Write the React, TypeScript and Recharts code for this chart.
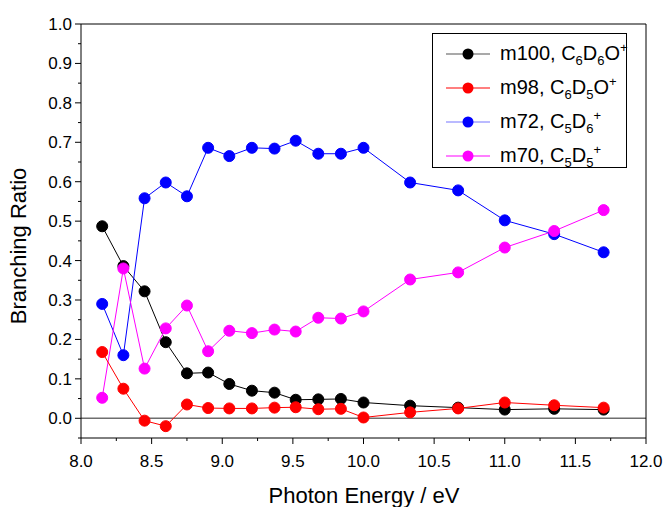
import { LineChart, Line, XAxis, YAxis, ReferenceLine, Legend, Label } from 'recharts'

const energy = [8.15, 8.3, 8.45, 8.6, 8.75, 8.9, 9.05, 9.21, 9.37, 9.52, 9.68, 9.84, 10.0, 10.33, 10.67, 11.0, 11.35, 11.7]
const m100 = [0.487, 0.386, 0.322, 0.193, 0.114, 0.116, 0.087, 0.07, 0.065, 0.047, 0.048, 0.049, 0.04, 0.032, 0.027, 0.022, 0.024, 0.022]
const m98 = [0.168, 0.075, -0.006, -0.02, 0.035, 0.026, 0.025, 0.025, 0.027, 0.028, 0.023, 0.024, 0.002, 0.015, 0.025, 0.04, 0.033, 0.027]
const m72 = [0.29, 0.16, 0.558, 0.598, 0.563, 0.686, 0.665, 0.686, 0.684, 0.704, 0.671, 0.671, 0.686, 0.598, 0.578, 0.502, 0.467, 0.421]
const m70 = [0.052, 0.38, 0.126, 0.228, 0.286, 0.17, 0.222, 0.216, 0.225, 0.22, 0.255, 0.253, 0.271, 0.352, 0.37, 0.433, 0.475, 0.528]

const xTicks = [8.0, 8.25, 8.5, 8.75, 9.0, 9.25, 9.5, 9.75, 10.0, 10.25, 10.5, 10.75, 11.0, 11.25, 11.5, 11.75, 12.0]
const yTicks = [-0.05, 0.0, 0.05, 0.1, 0.15, 0.2, 0.25, 0.3, 0.35, 0.4, 0.45, 0.5, 0.55, 0.6, 0.65, 0.7, 0.75, 0.8, 0.85, 0.9, 0.95, 1.0]

const series = [
  { key: 'm100', color: '#000000', legendColor: '#555555', base: 'm100, C', sub1: '6', mid: 'D', sub2: '6', tail: 'O', sup: '+' },
  { key: 'm98', color: '#ff0000', legendColor: '#ff0000', base: 'm98, C', sub1: '6', mid: 'D', sub2: '5', tail: 'O', sup: '+' },
  { key: 'm72', color: '#0000ff', legendColor: '#7777ff', base: 'm72, C', sub1: '5', mid: 'D', sub2: '6', tail: '', sup: '+' },
  { key: 'm70', color: '#ff00ff', legendColor: '#ff00ff', base: 'm70, C', sub1: '5', mid: 'D', sub2: '5', tail: '', sup: '+' },
]

const data = energy.map((e, i) => ({ e, m100: m100[i], m98: m98[i], m72: m72[i], m70: m70[i] }))

const FONT = '"Liberation Sans", Arial, sans-serif'

const isMajorX = (v: number) => Math.round(v * 100) % 50 === 0
const isMajorY = (v: number) => Math.round(Math.abs(v) * 100) % 10 === 0

const BottomTick = (props: any) => {
  const { x, y, payload } = props
  const major = isMajorX(payload.value)
  return (
    <g>
      <line x1={x} y1={y} x2={x} y2={y + (major ? 6 : 3)} stroke="#000" />
      {major && (
        <text x={x} y={y + 29} textAnchor="middle" fontSize={17} fontFamily={FONT} fill="#000">
          {payload.value.toFixed(1)}
        </text>
      )}
    </g>
  )
}

const LeftTick = (props: any) => {
  const { x, y, payload } = props
  const major = isMajorY(payload.value)
  return (
    <g>
      <line x1={x} y1={y} x2={x - (major ? 6 : 3)} y2={y} stroke="#000" />
      {major && (
        <text x={x - 9} y={y + 6} textAnchor="end" fontSize={17} fontFamily={FONT} fill="#000">
          {payload.value.toFixed(1)}
        </text>
      )}
    </g>
  )
}

const RightTick = (props: any) => {
  const { x, y, payload } = props
  const major = isMajorY(payload.value)
  return <line x1={x} y1={y} x2={x + (major ? 5 : 3)} y2={y} stroke="#000" />
}

const LegendBox = () => (
  <div
    style={{
      width: 195,
      height: 135,
      boxSizing: 'border-box',
      border: '1px solid #000',
      background: '#fff',
      fontFamily: FONT,
      fontSize: 20,
      paddingTop: 3,
    }}
  >
    {series.map((s) => (
      <div key={s.key} style={{ display: 'flex', alignItems: 'center', height: 34 }}>
        <svg width={67} height={14} style={{ flex: 'none' }}>
          <line x1={13} y1={7} x2={57} y2={7} stroke={s.legendColor} strokeWidth={1.2} />
          <circle cx={35} cy={7} r={5.5} fill={s.color} />
        </svg>
        <span style={{ whiteSpace: 'nowrap', lineHeight: '20px' }}>
          {s.base}
          <sub style={{ fontSize: 13 }}>{s.sub1}</sub>
          {s.mid}
          <sub style={{ fontSize: 13 }}>{s.sub2}</sub>
          {s.tail}
          <sup style={{ fontSize: 13 }}>{s.sup}</sup>
        </span>
      </div>
    ))}
  </div>
)

export default function App() {
  return (
    <div style={{ position: 'absolute', left: 0, top: 0, width: 667, height: 507, background: '#fff' }}>
      <LineChart width={667} height={507} data={data} margin={{ top: 0, right: 0, bottom: 0, left: 0 }}>
        <XAxis
          dataKey="e"
          type="number"
          domain={[8, 12]}
          ticks={xTicks}
          interval={0}
          height={69}
          tickSize={0}
          tickMargin={0}
          tickLine={false}
          tick={<BottomTick />}
          axisLine={{ stroke: '#000' }}
          allowDataOverflow
        >
          <Label
            content={() => (
              <text x={364} y={503} textAnchor="middle" fontSize={22} fontFamily={FONT} fill="#000">
                Photon Energy / eV
              </text>
            )}
          />
        </XAxis>
        <XAxis
          xAxisId="top"
          orientation="top"
          dataKey="e"
          type="number"
          domain={[8, 12]}
          height={24}
          tick={false}
          tickLine={false}
          axisLine={{ stroke: '#000' }}
        />
        <YAxis
          type="number"
          domain={[-0.05, 1.0]}
          ticks={yTicks}
          interval={0}
          width={81}
          tickSize={0}
          tickMargin={0}
          tickLine={false}
          tick={<LeftTick />}
          axisLine={{ stroke: '#000' }}
          allowDataOverflow
        >
          <Label
            content={() => (
              <text
                x={20}
                y={246}
                transform="rotate(-90 20 246)"
                textAnchor="middle"
                dominantBaseline="middle"
                fontSize={22}
                fontFamily={FONT}
                fill="#000"
              >
                Branching Ratio
              </text>
            )}
          />
        </YAxis>
        <YAxis
          yAxisId="right"
          orientation="right"
          type="number"
          domain={[-0.05, 1.0]}
          ticks={yTicks}
          interval={0}
          width={21}
          tickSize={0}
          tickMargin={0}
          tickLine={false}
          tick={<RightTick />}
          axisLine={{ stroke: '#000' }}
        />
        <ReferenceLine y={0} stroke="#6e6e6e" strokeWidth={1.5} />
        <Legend
          layout="horizontal"
          verticalAlign="middle"
          align="center"
          wrapperStyle={{ top: 33, left: 432, width: 195, height: 135 }}
          content={() => <LegendBox />}
        />
        {['m100', 'm72', 'm70', 'm98'].map((k) => {
          const s = series.find((d) => d.key === k)!
          return (
            <Line
              key={k}
              dataKey={k}
              stroke={s.color}
              strokeWidth={1}
              dot={{ r: 5.5, fill: s.color, stroke: s.color, strokeWidth: 1 }}
              activeDot={false}
              isAnimationActive={false}
            />
          )
        })}
      </LineChart>
    </div>
  )
}
